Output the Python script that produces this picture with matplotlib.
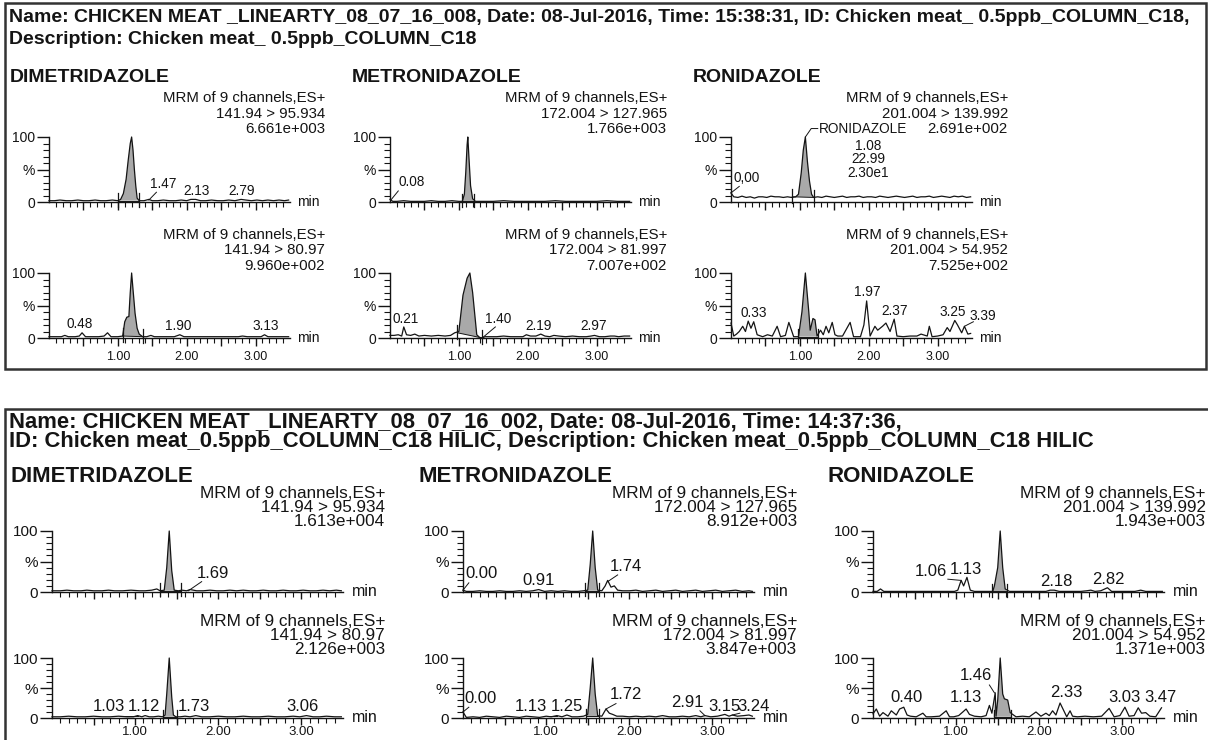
import numpy as np
import matplotlib.pyplot as plt
from matplotlib.patches import Rectangle, Polygon

plt.rcParams['font.family'] = ['Liberation Sans', 'DejaVu Sans']

W, H = 1208, 740

# ---------------- data (time in min, intensity in %) ----------------
# C18 run: dimetridazole quant / qual
c18_dim_q_t = [0.00, 0.08, 0.16, 0.25, 0.33, 0.42, 0.50, 0.58, 0.67, 0.75, 0.83, 0.92, 1.00, 1.04, 1.08, 1.12, 1.15, 1.18, 1.20, 1.22,
               1.24, 1.26, 1.28, 1.31, 1.38, 1.45, 1.50, 1.58, 1.66, 1.75, 1.84, 1.92, 2.00, 2.06, 2.13, 2.20, 2.28, 2.36, 2.45, 2.53,
               2.61, 2.70, 2.79, 2.86, 2.94, 3.02, 3.10, 3.18, 3.26, 3.34, 3.42, 3.48]
c18_dim_q_y = [2, 2, 3, 2, 2, 3, 2, 2, 3, 2, 2, 3, 2, 4, 13, 35, 64, 90, 100, 80,
               50, 25, 6, 2, 2, 4, 2, 2, 3, 2, 2, 3, 2, 4, 4, 2, 2, 3, 2, 2,
               3, 2, 4, 3, 2, 3, 2, 3, 2, 3, 2, 3]
c18_dim_k_t = [0.00, 0.10, 0.18, 0.23, 0.28, 0.38, 0.44, 0.48, 0.53, 0.62, 0.72, 0.80, 0.85, 0.90, 1.00, 1.07, 1.10, 1.13, 1.16, 1.18,
               1.20, 1.22, 1.25, 1.28, 1.31, 1.36, 1.42, 1.48, 1.53, 1.62, 1.72, 1.82, 1.90, 1.96, 2.05, 2.20, 2.35, 2.50, 2.65, 2.75,
               2.81, 2.88, 3.00, 3.08, 3.13, 3.18, 3.30, 3.40, 3.48]
c18_dim_k_y = [2, 2, 2, 4, 2, 2, 3, 8, 2, 2, 2, 3, 8, 2, 2, 3, 25, 32, 33, 70,
               100, 75, 38, 15, 6, 2, 2, 4, 2, 2, 2, 2, 5, 2, 2, 2, 2, 2, 2, 2,
               3, 2, 2, 2, 5, 2, 2, 2, 2]

# C18 run: metronidazole
c18_met_q_t = [0.00, 0.04, 0.10, 0.20, 0.30, 0.40, 0.50, 0.60, 0.70, 0.80, 0.90, 1.00, 1.05, 1.08, 1.10, 1.12, 1.13, 1.15, 1.17, 1.20,
               1.24, 1.35, 1.50, 1.65, 1.80, 1.95, 2.10, 2.25, 2.40, 2.55, 2.70, 2.85, 3.00, 3.15, 3.30, 3.48]
c18_met_q_y = [4, 1, 1, 2, 1, 1, 1, 2, 1, 1, 2, 1, 1, 12, 45, 88, 100, 62, 25, 5,
               1, 1, 1, 2, 1, 1, 1, 1, 2, 1, 1, 1, 1, 2, 1, 1]
c18_met_k_t = [0.00, 0.06, 0.12, 0.17, 0.20, 0.24, 0.30, 0.36, 0.42, 0.50, 0.60, 0.70, 0.80, 0.88, 0.94, 0.97, 1.00, 1.06, 1.12, 1.16,
               1.20, 1.26, 1.30, 1.34, 1.38, 1.45, 1.55, 1.65, 1.75, 1.85, 1.93, 1.98, 2.04, 2.12, 2.19, 2.25, 2.32, 2.38, 2.45, 2.55,
               2.65, 2.75, 2.85, 2.92, 2.97, 3.04, 3.12, 3.20, 3.26, 3.32, 3.40, 3.48]
c18_met_k_y = [4, 4, 5, 3, 17, 5, 4, 6, 3, 4, 3, 4, 3, 4, 8, 9, 10, 66, 92, 100,
               70, 5, 1, 0, 2, 2, 2, 3, 2, 2, 2, 5, 3, 3, 6, 3, 2, 4, 3, 2,
               3, 2, 2, 3, 4, 2, 2, 3, 3, 2, 3, 3]

# C18 run: ronidazole
c18_ron_q_t = [0.00, 0.04, 0.10, 0.16, 0.22, 0.28, 0.34, 0.40, 0.46, 0.52, 0.58, 0.64, 0.70, 0.76, 0.82, 0.88, 0.94,
               0.98, 1.02, 1.05, 1.08, 1.11, 1.14, 1.17, 1.20,
               1.26, 1.32, 1.38, 1.44, 1.50, 1.56, 1.62, 1.68, 1.74, 1.80, 1.86, 1.92, 1.98, 2.04, 2.10, 2.16, 2.22, 2.28, 2.34,
               2.40, 2.46, 2.52, 2.58, 2.64, 2.70, 2.76, 2.82, 2.88, 2.94, 3.00, 3.06, 3.12, 3.18, 3.24, 3.30, 3.36, 3.42, 3.48]
c18_ron_q_y = [14, 8, 7, 9, 7, 8, 6, 8, 8, 7, 9, 8, 8, 7, 8, 7, 8,
               12, 45, 80, 100, 62, 32, 12, 7,
               8, 7, 9, 8, 7, 8, 9, 7, 8, 8, 9, 7, 8, 8, 7, 9, 8, 7, 8,
               9, 8, 7, 8, 9, 7, 8, 8, 9, 7, 8, 9, 8, 7, 9, 8, 9, 7, 8]
c18_ron_k_t = [0.00, 0.04, 0.08, 0.12, 0.17, 0.21, 0.25, 0.29, 0.33, 0.38, 0.46, 0.53, 0.60, 0.67, 0.72, 0.79, 0.84, 0.91,
               0.98, 1.03, 1.08, 1.13, 1.15, 1.19, 1.22, 1.25,
               1.30, 1.34, 1.38, 1.42, 1.47, 1.51, 1.55, 1.62, 1.73, 1.78, 1.88, 1.93, 1.97, 2.02, 2.09, 2.13, 2.20, 2.25,
               2.31, 2.37, 2.41, 2.50, 2.60, 2.70, 2.76, 2.85, 2.88, 2.92, 3.00, 3.08, 3.14, 3.18, 3.25, 3.29, 3.35, 3.39,
               3.44, 3.48]
c18_ron_k_y = [23, 3, 6, 10, 18, 10, 26, 15, 25, 5, 2, 5, 3, 18, 2, 4, 24, 2,
               2, 40, 100, 40, 12, 30, 28, 3,
               12, 5, 18, 8, 24, 5, 3, 3, 24, 2, 2, 20, 57, 3, 18, 12, 18, 23,
               10, 29, 3, 2, 3, 3, 6, 3, 18, 2, 3, 5, 16, 10, 27, 20, 8, 18,
               6, 7]

# C18 HILIC run: dimetridazole
hil_dim_q_t = [0.00, 0.10, 0.18, 0.26, 0.35, 0.42, 0.50, 0.60, 0.68, 0.75, 0.85, 0.95, 1.05, 1.12, 1.20, 1.26, 1.30, 1.35, 1.38, 1.41,
               1.44, 1.47, 1.52, 1.56, 1.62, 1.66, 1.74, 1.82, 1.90, 1.98, 2.06, 2.14, 2.22, 2.30, 2.38, 2.46, 2.54, 2.62, 2.70, 2.78,
               2.86, 2.94, 3.02, 3.10, 3.18, 3.26, 3.34, 3.42, 3.48]
hil_dim_q_y = [2, 2, 3, 2, 2, 3, 2, 2, 3, 2, 2, 3, 2, 2, 3, 5, 2, 3, 40, 100,
               35, 3, 2, 3, 2, 4, 2, 2, 3, 2, 2, 3, 2, 3, 2, 2, 3, 2, 2, 3,
               2, 2, 3, 2, 2, 3, 2, 3, 2]
hil_dim_k_t = [0.00, 0.10, 0.20, 0.30, 0.40, 0.50, 0.60, 0.70, 0.80, 0.90, 0.98, 1.03, 1.08, 1.12, 1.17, 1.22, 1.28, 1.33, 1.36, 1.38,
               1.41, 1.44, 1.46, 1.49, 1.54, 1.60, 1.66, 1.73, 1.80, 1.90, 2.00, 2.10, 2.20, 2.30, 2.40, 2.50, 2.60, 2.70, 2.80, 2.90,
               2.98, 3.06, 3.14, 3.22, 3.30, 3.40, 3.48]
hil_dim_k_y = [2, 2, 3, 2, 2, 3, 2, 2, 3, 2, 2, 4, 2, 4, 2, 2, 3, 2, 5, 40,
               100, 35, 5, 2, 2, 3, 2, 4, 2, 2, 3, 2, 2, 3, 2, 2, 3, 2, 2, 3,
               2, 4, 2, 2, 3, 2, 2]

# C18 HILIC run: metronidazole
hil_met_q_t = [0.00, 0.04, 0.12, 0.20, 0.28, 0.36, 0.44, 0.52, 0.60, 0.68, 0.76, 0.84, 0.91, 0.98, 1.06, 1.14, 1.22, 1.30, 1.38, 1.45,
               1.50, 1.53, 1.56, 1.59, 1.62, 1.67, 1.71, 1.74, 1.78, 1.82, 1.86, 1.92, 2.00, 2.08, 2.16, 2.24, 2.32, 2.40, 2.48, 2.56,
               2.64, 2.72, 2.80, 2.88, 2.96, 3.04, 3.12, 3.20, 3.28, 3.36, 3.44, 3.48]
hil_met_q_y = [3, 1, 1, 2, 1, 1, 2, 1, 1, 2, 1, 2, 4, 1, 2, 1, 2, 1, 1, 2,
               3, 45, 100, 40, 3, 2, 10, 19, 8, 10, 3, 2, 2, 3, 1, 2, 3, 1, 2, 3,
               1, 2, 3, 1, 2, 3, 1, 2, 3, 1, 2, 1]
hil_met_k_t = [0.00, 0.04, 0.12, 0.20, 0.28, 0.36, 0.44, 0.52, 0.60, 0.68, 0.76, 0.84, 0.92, 1.00, 1.06, 1.13, 1.19, 1.25, 1.31, 1.38,
               1.45, 1.50, 1.53, 1.56, 1.59, 1.62, 1.67, 1.72, 1.76, 1.80, 1.85, 1.92, 2.00, 2.08, 2.16, 2.24, 2.32, 2.40, 2.48, 2.56,
               2.64, 2.72, 2.80, 2.86, 2.91, 2.98, 3.06, 3.15, 3.20, 3.24, 3.30, 3.38, 3.44, 3.48]
hil_met_k_y = [10, 1, 2, 1, 3, 2, 1, 3, 2, 1, 3, 2, 1, 3, 2, 4, 2, 5, 2, 2,
               3, 6, 50, 100, 40, 4, 3, 15, 8, 6, 3, 3, 2, 3, 2, 3, 2, 4, 2, 2,
               3, 2, 4, 2, 4, 2, 3, 6, 3, 5, 3, 4, 5, 3]

# C18 HILIC run: ronidazole
hil_ron_q_t = [0.00, 0.05, 0.09, 0.13, 0.20, 0.30, 0.40, 0.50, 0.60, 0.70, 0.80, 0.90, 0.98, 1.02, 1.06, 1.09, 1.13, 1.17, 1.22, 1.30,
               1.38, 1.44, 1.46, 1.50, 1.53, 1.56, 1.59, 1.64, 1.72, 1.80, 1.90, 2.00, 2.08, 2.13, 2.18, 2.24, 2.32, 2.40, 2.50, 2.57,
               2.62, 2.67, 2.74, 2.82, 2.87, 2.95, 3.05, 3.15, 3.22, 3.28, 3.38, 3.48]
hil_ron_q_y = [1, 1, 5, 1, 1, 1, 1, 1, 1, 1, 1, 1, 1, 3, 19, 10, 24, 3, 1, 1,
               1, 1, 10, 40, 100, 40, 5, 1, 1, 1, 1, 1, 1, 3, 3, 1, 1, 1, 1, 2,
               3, 1, 2, 7, 1, 1, 1, 1, 3, 1, 1, 1]
hil_ron_k_t = [0.00, 0.04, 0.08, 0.12, 0.18, 0.22, 0.28, 0.32, 0.37, 0.41, 0.45, 0.52, 0.60, 0.64, 0.70, 0.80, 0.88, 0.92, 0.97, 1.03,
               1.08, 1.12, 1.16, 1.22, 1.30, 1.36, 1.40, 1.43, 1.47, 1.48, 1.50, 1.53, 1.56, 1.58, 1.62, 1.65, 1.72, 1.80, 1.88, 1.92,
               1.96, 2.02, 2.08, 2.12, 2.16, 2.20, 2.25, 2.33, 2.37, 2.40, 2.46, 2.55, 2.65, 2.75, 2.84, 2.90, 2.97, 3.03, 3.08, 3.14,
               3.19, 3.23, 3.28, 3.33, 3.40, 3.47]
hil_ron_k_y = [7, 15, 3, 9, 3, 12, 5, 15, 18, 5, 3, 2, 8, 2, 2, 3, 12, 2, 2, 4,
               10, 15, 6, 3, 2, 4, 21, 8, 42, 3, 30, 100, 40, 32, 30, 9, 2, 3, 2, 6,
               10, 3, 8, 4, 12, 5, 25, 2, 12, 3, 2, 3, 2, 3, 16, 2, 4, 18, 3, 4,
               17, 8, 9, 3, 2, 17]

run_c18_header = ["Name: CHICKEN MEAT _LINEARTY_08_07_16_008, Date: 08-Jul-2016, Time: 15:38:31, ID: Chicken meat_ 0.5ppb_COLUMN_C18,",
                  "Description: Chicken meat_ 0.5ppb_COLUMN_C18"]
run_hil_header = ["Name: CHICKEN MEAT _LINEARTY_08_07_16_002, Date: 08-Jul-2016, Time: 14:37:36,",
                  "ID: Chicken meat_0.5ppb_COLUMN_C18 HILIC, Description: Chicken meat_0.5ppb_COLUMN_C18 HILIC"]
compounds = ["DIMETRIDAZOLE", "METRONIDAZOLE", "RONIDAZOLE"]
transitions = [["141.94 > 95.934", "141.94 > 80.97"],
               ["172.004 > 127.965", "172.004 > 81.997"],
               ["201.004 > 139.992", "201.004 > 54.952"]]
c18_intensity = [["6.661e+003", "9.960e+002"], ["1.766e+003", "7.007e+002"], ["2.691e+002", "7.525e+002"]]
hil_intensity = [["1.613e+004", "2.126e+003"], ["8.912e+003", "3.847e+003"], ["1.943e+003", "1.371e+003"]]

# ronidazole peak report in the C18 quant trace
ron_peak_name = "RONIDAZOLE"
ron_peak_report = ["1.08", "22.99", "2.30e1"]

# integration windows: (t_start, y_start, t_end, y_end)
c18_integ = [[(1.00, 2, 1.31, 2), (1.07, 3, 1.37, 2)],
             [(1.05, 1, 1.22, 1), (0.98, 8, 1.34, 0)],
             [(0.89, 8, 1.20, 7), (0.98, 2, 1.26, 2)]]
hil_integ = [[(1.30, 2, 1.55, 2), (1.33, 2, 1.50, 2)],
             [(1.47, 2, 1.64, 2), (1.48, 3, 1.64, 3)],
             [(1.43, 1, 1.61, 1), (1.45, 2, 1.66, 2)]]

# peak annotations: (text, x, y_bottom, leader or None)
c18_labels = [[[("1.47", 1.66, 17, (1.45, 3, 1.56, 15)), ("2.13", 2.14, 6, None), ("2.79", 2.80, 6, None)],
               [("0.48", 0.45, 10, None), ("1.90", 1.87, 8, None), ("3.13", 3.15, 8, None)]],
              [[("0.08", 0.32, 20, (0.02, 4, 0.12, 17))],
               [("0.21", 0.23, 19, None), ("1.40", 1.57, 19, (1.35, 1, 1.53, 17)), ("2.19", 2.16, 8, None), ("2.97", 2.95, 8, None)]],
              [[("0,00", 0.22, 26, (0.00, 14, 0.12, 24))],
               [("0.33", 0.33, 28, None), ("1.97", 1.98, 60, None), ("2.37", 2.37, 31, None), ("3.25", 3.22, 30, None),
                ("3.39", 3.66, 23, (3.39, 18, 3.52, 25))]]]
hil_labels = [[[("1.69", 1.93, 18, (1.64, 2, 1.80, 17))],
               [("1.03", 0.68, 7, (0.88, 4, 1.03, 4)), ("1.12", 1.11, 7, None), ("1.73", 1.71, 7, None), ("3.06", 3.01, 7, None)]],
              [[("0.00", 0.22, 18, (0.00, 3, 0.07, 15)), ("0.91", 0.91, 6, None), ("1.74", 1.96, 30, (1.74, 17, 1.86, 28))],
               [("0.00", 0.21, 20, (0.00, 10, 0.07, 18)), ("1.13", 0.82, 6, (1.02, 4, 1.13, 4)), ("1.25", 1.25, 6, None),
                ("1.72", 1.96, 26, (1.72, 15, 1.84, 24)), ("2.91", 2.70, 14, (2.91, 4, 2.85, 12)), ("3.15", 3.15, 6, None),
                ("3.24", 3.50, 6, (3.24, 5, 3.33, 8))]],
              [[("1.06", 0.70, 21, (0.90, 21, 1.06, 19)), ("1.13", 1.12, 24, None), ("2.18", 2.21, 5, None), ("2.82", 2.83, 9, None)],
               [("0.40", 0.40, 22, None), ("1.13", 1.12, 22, None), ("1.46", 1.24, 58, (1.46, 42, 1.40, 55)),
                ("2.33", 2.32, 30, None), ("3.03", 3.03, 22, None), ("3.47", 3.46, 22, None)]]]

c18_traces = [[(c18_dim_q_t, c18_dim_q_y), (c18_dim_k_t, c18_dim_k_y)],
              [(c18_met_q_t, c18_met_q_y), (c18_met_k_t, c18_met_k_y)],
              [(c18_ron_q_t, c18_ron_q_y), (c18_ron_k_t, c18_ron_k_y)]]
hil_traces = [[(hil_dim_q_t, hil_dim_q_y), (hil_dim_k_t, hil_dim_k_y)],
              [(hil_met_q_t, hil_met_q_y), (hil_met_k_t, hil_met_k_y)],
              [(hil_ron_q_t, hil_ron_q_y), (hil_ron_k_t, hil_ron_k_y)]]

INK = '#141414'
FILL = '#a9a9a9'

fig = plt.figure(figsize=(W / 100, H / 100), dpi=100)


def ftext(x, y, s, **kw):
    fig.text(x / W, 1 - y / H, s, color=INK, **kw)


def add_ax(x0, y_top, x1, y_bot):
    return fig.add_axes([x0 / W, 1 - y_bot / H, (x1 - x0) / W, (y_bot - y_top) / H])


def chromatogram(ax, t, y, integ, labels, xlabels, fs):
    ax.set_xlim(0, 3.5)
    ax.set_ylim(0, 100)
    ax.patch.set_alpha(0)
    for s in ['top', 'right']:
        ax.spines[s].set_visible(False)
    for s in ['left', 'bottom']:
        ax.spines[s].set_color(INK)
        ax.spines[s].set_linewidth(1.0)
    ax.set_yticks([0, 50, 100])
    ax.set_yticklabels(['0', '%', '100'])
    ax.set_yticks(np.arange(10, 100, 10), minor=True)
    ax.set_xticks([0.5, 1, 1.5, 2, 2.5, 3])
    if xlabels:
        ax.set_xticklabels(['', '1.00', '', '2.00', '', '3.00'])
    else:
        ax.set_xticklabels([])
    ax.set_xticks(np.arange(0.1, 3.5, 0.1), minor=True)
    ax.tick_params(axis='y', which='major', length=9, width=1, pad=1, labelsize=fs['ytick'], colors=INK)
    ax.tick_params(axis='y', which='minor', length=4, width=0.8, colors=INK)
    ax.tick_params(axis='x', which='major', length=fs['xlen'], width=1, pad=fs['xpad'], labelsize=fs['xtick'], colors=INK)
    ax.tick_params(axis='x', which='minor', length=3.5, width=0.8, colors=INK)

    ts, ys, te, ye = integ
    inside = [(a, b) for a, b in zip(t, y) if ts < a < te]
    ax.add_patch(Polygon([(ts, ys)] + inside + [(te, ye)], closed=True, facecolor=FILL,
                         edgecolor='none', clip_on=False, zorder=1))
    ax.plot([ts, te], [ys, ye], color=INK, lw=0.7, zorder=2, clip_on=False)
    ax.plot([ts, ts], [ys - 9, ys + 12], color=INK, lw=0.9, clip_on=False, zorder=2)
    ax.plot([te, te], [ye - 9, ye + 12], color=INK, lw=0.9, clip_on=False, zorder=2)
    ax.plot(t, y, color=INK, lw=0.9, clip_on=False, zorder=3)

    for txt, lx, ly, lead in labels:
        if lead is not None:
            ax.plot([lead[0], lead[2]], [lead[1], lead[3]], color=INK, lw=0.7, clip_on=False)
        ax.text(lx, ly, txt, ha='center', va='bottom', fontsize=fs['peak'], color=INK, clip_on=False)
    ax.text(1.03, 0, 'min', transform=ax.transAxes, ha='left', va='center', fontsize=fs['min'], color=INK)


def run_block(header, header_y, header_fs, name_y, name_x, name_fs, col_x0, col_w, rows, mrm_right, mrm_y,
              traces, integs, labels, intens, fs):
    ftext(9, header_y[0], header[0], fontsize=header_fs, fontweight='bold', va='center')
    ftext(9, header_y[1], header[1], fontsize=header_fs, fontweight='bold', va='center')
    axes = []
    for c in range(3):
        ftext(name_x[c], name_y, compounds[c], fontsize=name_fs, fontweight='bold', va='center')
        col = []
        for r in range(2):
            ax = add_ax(col_x0[c], rows[r][0], col_x0[c] + col_w, rows[r][1])
            t, y = traces[c][r]
            chromatogram(ax, t, y, integs[c][r], labels[c][r], r == 1, fs)
            lines = ["MRM of 9 channels,ES+", transitions[c][r], intens[c][r]]
            for k in range(3):
                ftext(mrm_right[c], mrm_y[r][k], lines[k], fontsize=fs['mrm'], ha='right', va='center')
            col.append(ax)
        axes.append(col)
    return axes


# boxes
fig.patches.append(Rectangle((5 / W, 1 - 369 / H), 1201 / W, 366 / H, transform=fig.transFigure,
                             fill=False, edgecolor='#333333', lw=1.8))
fig.patches.append(Rectangle((5 / W, -0.05), 1205 / W, 1 - 409 / H + 0.05, transform=fig.transFigure,
                             fill=False, edgecolor='#333333', lw=1.8))

fs_top = {'ytick': 10, 'xtick': 9, 'xlen': 6, 'xpad': 3, 'peak': 9.8, 'mrm': 10.8, 'min': 10}
fs_bot = {'ytick': 11, 'xtick': 9.5, 'xlen': 5, 'xpad': 0.5, 'peak': 12, 'mrm': 12.3, 'min': 11.5}

top_axes = run_block(run_c18_header, (18, 40), 14, 78, (10, 352, 693), 14, (49, 390, 731), 241,
                     [(137, 202), (273, 338)], (325, 667, 1008), [(98, 114, 129), (235, 250, 266)],
                     c18_traces, c18_integ, c18_labels, c18_intensity, fs_top)
run_block(run_hil_header, (422, 441), 15.8, 476, (10, 418, 828), 16, (52, 463, 873), 291,
          [(531, 592), (658, 718)], (385, 797, 1206), [(494, 508, 521), (621, 636, 649)],
          hil_traces, hil_integ, hil_labels, hil_intensity, fs_bot)

# named-peak report on the C18 ronidazole quant trace
rax = top_axes[2][0]
rax.plot([1.08, 1.165, 1.26], [100, 113, 113], color=INK, lw=0.7, clip_on=False)
rax.text(1.27, 113, ron_peak_name, ha='left', va='center', fontsize=fs_top['peak'], color=INK, clip_on=False)
for k, s in enumerate(ron_peak_report):
    rax.text(1.99, 86 - 20.5 * k, s, ha='center', va='center', fontsize=fs_top['peak'], color=INK, clip_on=False)

fig.savefig('out.png', dpi=100)
